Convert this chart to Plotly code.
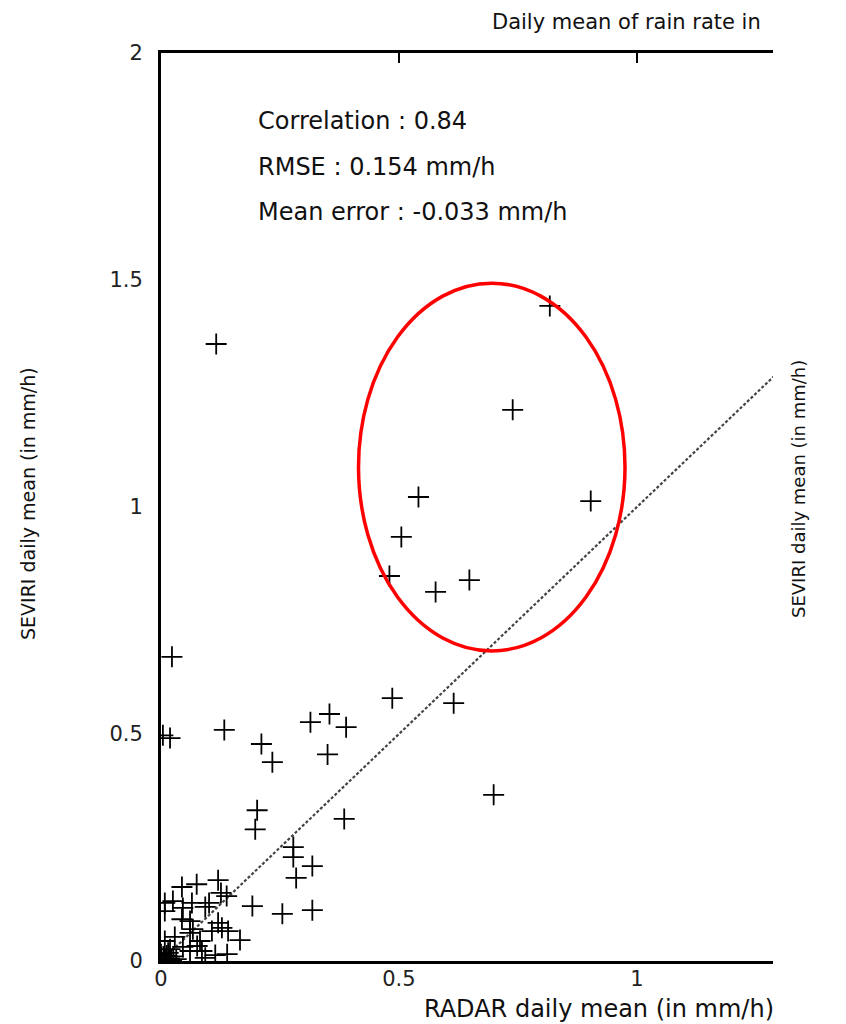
import plotly.graph_objects as go

# RADAR (x) vs SEVIRI (y) daily means, mm/h
radar = [0.116, 0.817, 0.739, 0.903, 0.541, 0.505, 0.480, 0.577, 0.648,
         0.023, 0.019, 0.004, 0.133, 0.211, 0.234, 0.314, 0.354, 0.389,
         0.350, 0.486, 0.615, 0.699, 0.202, 0.198, 0.385, 0.278, 0.278,
         0.318, 0.284, 0.192, 0.255, 0.318,
         0.044, 0.075, 0.120, 0.126, 0.138, 0.101, 0.093, 0.008, 0.008,
         0.025, 0.046, 0.065, 0.044, 0.061, 0.067, 0.061, 0.120, 0.128,
         0.107, 0.141, 0.166, 0.008, 0.029, 0.082, 0.076, 0.046, 0.061,
         0.086, 0.093, 0.114, 0.139, 0.019,
         0.000, 0.005, 0.010, 0.015, 0.022, 0.000, 0.026, 0.032, 0.008,
         0.012, 0.000, 0.018]
seviri = [1.359, 1.443, 1.214, 1.013, 1.022, 0.934, 0.848, 0.813, 0.839,
          0.670, 0.491, 0.497, 0.509, 0.478, 0.438, 0.526, 0.544, 0.515,
          0.455, 0.579, 0.568, 0.366, 0.332, 0.290, 0.313, 0.251, 0.229,
          0.209, 0.183, 0.121, 0.104, 0.112,
          0.163, 0.169, 0.178, 0.150, 0.143, 0.128, 0.119, 0.128, 0.110,
          0.132, 0.117, 0.128, 0.092, 0.088, 0.070, 0.062, 0.084, 0.073,
          0.066, 0.066, 0.046, 0.044, 0.053, 0.044, 0.033, 0.031, 0.022,
          0.022, 0.007, 0.013, 0.015, 0.026,
          0.000, 0.010, 0.004, 0.018, 0.002, 0.015, 0.010, 0.004, 0.000,
          0.012, 0.006, 0.006]

diag = [0.0, 1.3]
x_ticks = [0, 0.5, 1]
x_tick_text = ["0", "0.5", "1"]
y_ticks = [0, 0.5, 1, 1.5, 2]
y_tick_text = ["0", "0.5", "1", "1.5", "2"]
stats = ["Correlation : 0.84", "RMSE : 0.154 mm/h", "Mean error : -0.033 mm/h"]
stats_y = [1.85, 1.75, 1.65]

FONT = "DejaVu Sans"
OFF = 7  # page body offset


def px(xp):
    return (xp - 160) / 612


def py(yp):
    return (960 - yp) / 908


fig = go.Figure()
fig.add_trace(go.Scatter(x=diag, y=diag, mode="lines",
                         line=dict(color="#444444", width=2.2, dash="3px,2px"),
                         hoverinfo="skip", showlegend=False))
fig.add_trace(go.Scatter(x=radar, y=seviri, mode="markers",
                         marker=dict(symbol="cross-thin", size=15,
                                     line=dict(color="black", width=1.8)),
                         showlegend=False))
fig.add_trace(go.Scatter(x=[None], y=[None], xaxis="x2", showlegend=False,
                         hoverinfo="skip"))

fig.add_shape(type="circle", xref="x", yref="y", x0=0.415, x1=0.975,
              y0=0.683, y1=1.493, line=dict(color="#ff0000", width=3.5))

for t, yy in zip(stats, stats_y):
    fig.add_annotation(x=0.2, y=yy, xref="x", yref="y", text=t, showarrow=False,
                       xanchor="left", yanchor="middle",
                       font=dict(family=FONT, size=24, color="#111"))

fig.add_annotation(x=px(762), y=py(21), xref="paper", yref="paper",
                   text="Daily mean of rain rate in",
                   showarrow=False, xanchor="right", yanchor="middle",
                   font=dict(family=FONT, size=21, color="#111"))
fig.add_annotation(x=px(421), y=py(1008), xref="paper", yref="paper",
                   text="RADAR daily mean (in mm/h)", showarrow=False,
                   xanchor="left", yanchor="middle",
                   font=dict(family=FONT, size=24, color="#111"))
fig.add_annotation(x=px(27), y=py(503), xref="paper", yref="paper",
                   text="SEVIRI daily mean (in mm/h)", showarrow=False, textangle=-90,
                   xanchor="center", yanchor="middle",
                   font=dict(family=FONT, size=19, color="#111"))
fig.add_annotation(x=px(798), y=py(488), xref="paper", yref="paper",
                   text="SEVIRI daily mean (in mm/h)", showarrow=False, textangle=-90,
                   xanchor="center", yanchor="middle",
                   font=dict(family=FONT, size=18, color="#111"))

fig.update_layout(
    width=846 - OFF, height=1024 - OFF,
    margin=dict(l=160 - OFF, r=74, t=52 - OFF, b=64, autoexpand=False),
    paper_bgcolor="white", plot_bgcolor="white",
    xaxis=dict(range=[0, 1.286], showline=True, linewidth=3, linecolor="black",
               showgrid=False, zeroline=False, ticks="", tickvals=x_ticks,
               ticktext=x_tick_text, ticklabelstandoff=-3,
               tickfont=dict(family=FONT, size=21, color="#222")),
    xaxis2=dict(range=[0, 1.286], overlaying="x", side="top", showline=True,
                linewidth=3, linecolor="black", showgrid=False, zeroline=False,
                ticks="inside", ticklen=10, tickwidth=2, tickcolor="black",
                tickvals=[0.5, 1], showticklabels=False),
    yaxis=dict(range=[0, 2], showline=True, linewidth=3, linecolor="black",
               showgrid=False, zeroline=False, ticks="", tickvals=y_ticks,
               ticktext=y_tick_text, ticklabelstandoff=11,
               tickfont=dict(family=FONT, size=21, color="#222")),
)

fig.write_html("out.html")
